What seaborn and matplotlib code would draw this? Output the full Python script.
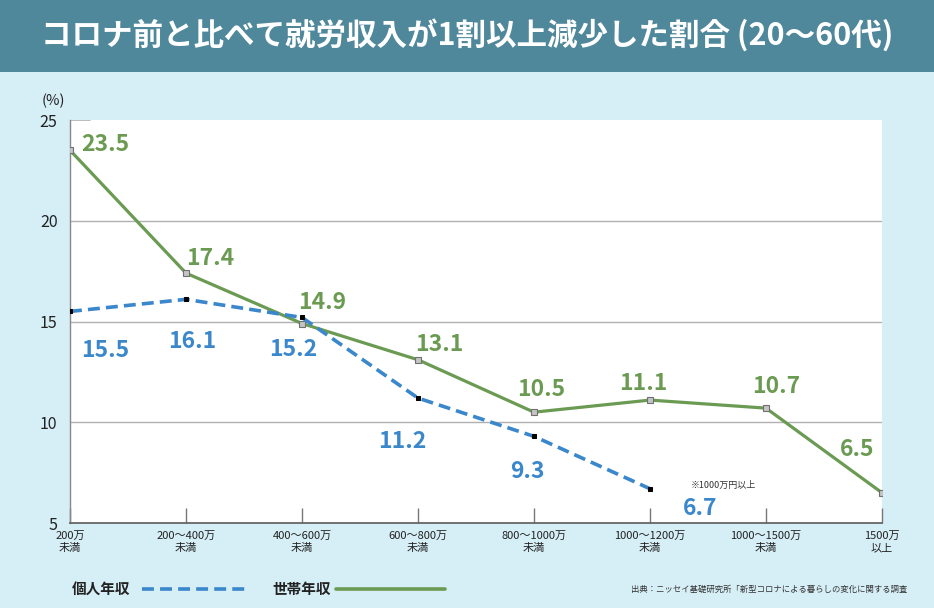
import pandas as pd
import seaborn as sns
import matplotlib.pyplot as plt

# data
categories = ["200万\n未満", "200～400万\n未満", "400～600万\n未満", "600～800万\n未満",
              "800～1000万\n未満", "1000～1200万\n未満", "1000～1500万\n未満", "1500万\n以上"]
household = [23.5, 17.4, 14.9, 13.1, 10.5, 11.1, 10.7, 6.5]
personal = [15.5, 16.1, 15.2, 11.2, 9.3, 6.7]

green = "#6b9b52"
blue = "#3a87cc"
bg = "#d6eef6"

sns.set_theme(style="white")
plt.rcParams["font.family"] = ["Noto Sans CJK JP", "DejaVu Sans"]

df_h = pd.DataFrame({"x": range(len(household)), "val": household})
df_p = pd.DataFrame({"x": range(len(personal)), "val": personal})

fig = plt.figure(figsize=(9.34, 6.08), dpi=100)
fig.patch.set_facecolor(bg)

# title bar
fig.patches.append(plt.Rectangle((0, 1 - 72 / 608), 1, 72 / 608, transform=fig.transFigure,
                                 facecolor="#4f879b", edgecolor="none", zorder=0))
fig.text(0.5, 1 - 36 / 608, "コロナ前と比べて就労収入が1割以上減少した割合 (20～60代)",
         ha="center", va="center", color="white", fontsize=22, fontweight="bold")

ax = fig.add_axes([70 / 934, 85 / 608, 812 / 934, 403 / 608])
ax.set_facecolor("white")

for y in [10, 15, 20]:
    ax.axhline(y, color="#b0b0b0", lw=1, zorder=1)
ax.axhline(25, xmax=0.025, color="#b0b0b0", lw=1.2, zorder=1)

sns.lineplot(data=df_h, x="x", y="val", ax=ax, color=green, lw=2.3, marker="s",
             markersize=4.5, markerfacecolor="#c4c4c4", markeredgecolor="#707070",
             markeredgewidth=0.8, zorder=3)
sns.lineplot(data=df_p, x="x", y="val", ax=ax, color=blue, lw=2.6,
             linestyle=(0, (3.3, 1.7)), marker="s", markersize=3.5,
             markerfacecolor="black", markeredgecolor="black", zorder=4)

# value labels (offsets in points)
h_off = [(8, -4), (0, 2), (-3, 7), (-2, 3), (-12, 8), (-22, 4), (-10, 7), (-30, 23)]
p_off = [(8, -20), (-13, -22), (-24, -15), (-29, -23), (-17, -17), (24, -6)]
for i, v in enumerate(household):
    ax.annotate(f"{v}", (i, v), xytext=h_off[i], textcoords="offset points",
                color=green, fontsize=16.5, fontweight="bold", ha="left", va="bottom")
for i, v in enumerate(personal):
    ax.annotate(f"{v}", (i, v), xytext=p_off[i], textcoords="offset points",
                color=blue, fontsize=16.5, fontweight="bold", ha="left", va="top")

ax.annotate("※1000万円以上", (5, personal[5]), xytext=(29, -1), textcoords="offset points",
            fontsize=6.5, color="#333333", ha="left", va="bottom")

ax.set_xlim(0, len(categories) - 1)
ax.set_ylim(5, 25)
ax.set_yticks([5, 10, 15, 20, 25])
ax.set_xticks(range(len(categories)))
ax.set_xticklabels(categories, fontsize=8, color="#222222", linespacing=1.2)
ax.tick_params(axis="y", labelsize=11.5, labelcolor="#222222", length=0, pad=9)
ax.tick_params(axis="x", direction="in", length=11, width=1, color="#777777", pad=6,
               bottom=True)
ax.set_xlabel("")
ax.set_ylabel("")
for s in ["top", "right"]:
    ax.spines[s].set_visible(False)
ax.spines["left"].set_color("#888888")
ax.spines["bottom"].set_color("#666666")
ax.spines["bottom"].set_linewidth(1.3)
ax.spines["left"].set_linewidth(1)
fig.text(53 / 934, 1 - 101 / 608, "(%)", ha="center", va="center", fontsize=10.5, color="#222222")

# legend drawn under the chart
fig.text(72 / 934, 1 - 589 / 608, "個人年収", ha="left", va="center", fontsize=10.5,
         fontweight="bold", color="#222222")
fig.add_artist(plt.Line2D([142 / 934, 250 / 934], [1 - 589 / 608] * 2, color=blue, lw=2.6,
                          linestyle=(0, (3.3, 1.7)), transform=fig.transFigure))
fig.text(272 / 934, 1 - 589 / 608, "世帯年収", ha="left", va="center", fontsize=10.5,
         fontweight="bold", color="#222222")
fig.add_artist(plt.Line2D([336 / 934, 445 / 934], [1 - 589 / 608] * 2, color=green, lw=2.6,
                          transform=fig.transFigure))
fig.text(907 / 934, 1 - 589 / 608, "出典：ニッセイ基礎研究所「新型コロナによる暮らしの変化に関する調査",
         ha="right", va="center", fontsize=6, color="#333333")

fig.savefig("out.png", dpi=100, facecolor=bg)
